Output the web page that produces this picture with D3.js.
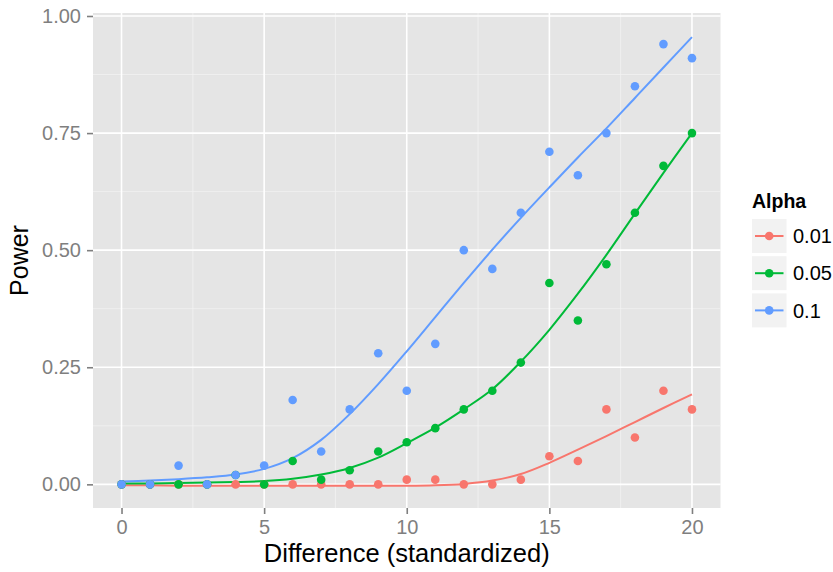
<!DOCTYPE html>
<html>
<head>
<meta charset="utf-8">
<script src="https://cdn.jsdelivr.net/npm/d3@7"></script>
<style>
  body { margin: 0; background: #fff; }
  text { font-family: "Liberation Sans", Arial, Helvetica, sans-serif; }
</style>
</head>
<body>
<div id="chart"></div>
<script>
'use strict';

// difference (standardized) values
var diffs = [0, 1, 2, 3, 4, 5, 6, 7, 8, 9, 10, 11, 12, 13, 14, 15, 16, 17, 18, 19, 20];

// observed power per alpha
var power001 = [0, 0, 0, 0, 0, 0, 0, 0, 0, 0, 0.01, 0.01, 0, 0, 0.01, 0.06, 0.05, 0.16, 0.10, 0.20, 0.16];
var power005 = [0, 0, 0, 0, 0.02, 0, 0.05, 0.01, 0.03, 0.07, 0.09, 0.12, 0.16, 0.20, 0.26, 0.43, 0.35, 0.47, 0.58, 0.68, 0.75];
var power010 = [0, 0, 0.04, 0, 0.02, 0.04, 0.18, 0.07, 0.16, 0.28, 0.20, 0.30, 0.50, 0.46, 0.58, 0.71, 0.66, 0.75, 0.85, 0.94, 0.91];

// smoothed fit
var fit001 = [-0.002, -0.002, -0.003, -0.003, -0.003, -0.003, -0.003, -0.003, -0.003, -0.003, -0.003, -0.002, 0.001, 0.008, 0.022, 0.046, 0.074, 0.103, 0.133, 0.163, 0.192];
var fit005 = [0.002, 0.002, 0.003, 0.004, 0.005, 0.007, 0.012, 0.021, 0.035, 0.057, 0.088, 0.121, 0.160, 0.203, 0.262, 0.330, 0.407, 0.490, 0.578, 0.665, 0.750];
var fit010 = [0.006, 0.008, 0.011, 0.015, 0.021, 0.033, 0.056, 0.095, 0.150, 0.214, 0.284, 0.357, 0.430, 0.501, 0.569, 0.634, 0.698, 0.760, 0.825, 0.890, 0.955];

var alphaLabels = ["0.01", "0.05", "0.1"];
var alphaColors = ["#F8766D", "#00BA38", "#619CFF"];
var xTicks = [0, 5, 10, 15, 20];
var yTicks = [0, 0.25, 0.5, 0.75, 1];

var series = [
  { label: alphaLabels[0], color: alphaColors[0], pts: power001, fit: fit001 },
  { label: alphaLabels[1], color: alphaColors[1], pts: power005, fit: fit005 },
  { label: alphaLabels[2], color: alphaColors[2], pts: power010, fit: fit010 }
];

var svgWidth = 833, svgHeight = 572;
var panel = { left: 93, right: 720.5, top: 13, bottom: 508 };

var svg = d3.select("#chart")
  .append("svg")
  .attr("width", svgWidth)
  .attr("height", svgHeight);

var x = d3.scaleLinear()
  .domain([-1, 21])
  .range([panel.left, panel.right]);

var y = d3.scaleLinear()
  .domain([-0.0505, 1.0064])
  .range([panel.bottom, panel.top]);

// panel background
svg.append("rect")
  .attr("x", panel.left)
  .attr("y", panel.top)
  .attr("width", panel.right - panel.left)
  .attr("height", panel.bottom - panel.top)
  .style("fill", "#e5e5e5");

// minor grid
var grid = svg.append("g");
grid.selectAll(".xminor")
  .data([2.5, 7.5, 12.5, 17.5])
  .enter().append("line")
  .attr("x1", d => x(d)).attr("x2", d => x(d))
  .attr("y1", panel.top).attr("y2", panel.bottom)
  .attr("stroke", "#f2f2f2").attr("stroke-width", 0.8);
grid.selectAll(".yminor")
  .data([0.125, 0.375, 0.625, 0.875])
  .enter().append("line")
  .attr("y1", d => y(d)).attr("y2", d => y(d))
  .attr("x1", panel.left).attr("x2", panel.right)
  .attr("stroke", "#f2f2f2").attr("stroke-width", 0.8);

// major grid
grid.selectAll(".xmajor")
  .data(xTicks)
  .enter().append("line")
  .attr("x1", d => x(d)).attr("x2", d => x(d))
  .attr("y1", panel.top).attr("y2", panel.bottom)
  .attr("stroke", "#fff").attr("stroke-width", 1.6);
grid.selectAll(".ymajor")
  .data(yTicks)
  .enter().append("line")
  .attr("y1", d => y(d)).attr("y2", d => y(d))
  .attr("x1", panel.left).attr("x2", panel.right)
  .attr("stroke", "#fff").attr("stroke-width", 1.6);

// axes
var xAxisG = svg.append("g")
  .attr("transform", "translate(0," + panel.bottom + ")")
  .call(d3.axisBottom(x).tickValues(xTicks).tickSize(6).tickPadding(6).tickFormat(d3.format("d")));

var yAxisG = svg.append("g")
  .attr("transform", "translate(" + panel.left + ",0)")
  .call(d3.axisLeft(y).tickValues(yTicks).tickSize(6).tickPadding(6).tickFormat(d3.format(".2f")));

[xAxisG, yAxisG].forEach(function(g) {
  g.select(".domain").remove();
  g.selectAll(".tick line").attr("stroke", "#7f7f7f").attr("stroke-width", 1.6);
  g.selectAll(".tick text")
    .attr("fill", "#7f7f7f")
    .style("font-size", "20px")
    .style("font-family", "'Liberation Sans', Arial, sans-serif");
});

// axis titles
svg.append("text")
  .attr("x", (panel.left + panel.right) / 2)
  .attr("y", 562)
  .attr("text-anchor", "middle")
  .style("font-size", "25.5px")
  .text("Difference (standardized)");

svg.append("text")
  .attr("transform", "rotate(-90)")
  .attr("x", -(panel.top + panel.bottom) / 2)
  .attr("y", 28)
  .attr("text-anchor", "middle")
  .style("font-size", "25px")
  .text("Power");

// fitted lines
var line = d3.line()
  .x((d, i) => x(diffs[i]))
  .y(d => y(d))
  .curve(d3.curveCatmullRom);

var plot = svg.append("g");
series.forEach(function(s) {
  plot.append("path")
    .datum(s.fit)
    .attr("fill", "none")
    .attr("stroke", s.color)
    .attr("stroke-width", 2)
    .attr("d", line);
});

// points
series.forEach(function(s) {
  plot.selectAll(null)
    .data(s.pts)
    .enter().append("circle")
    .attr("cx", (d, i) => x(diffs[i]))
    .attr("cy", d => y(d))
    .attr("r", 4.3)
    .attr("fill", s.color);
});

// legend
var legend = svg.append("g").attr("transform", "translate(752,0)");
legend.append("text")
  .attr("x", 0)
  .attr("y", 208)
  .style("font-size", "19.5px")
  .style("font-weight", "bold")
  .text("Alpha");

var keys = legend.selectAll(".key")
  .data(series)
  .enter().append("g")
  .attr("transform", (d, i) => "translate(0," + (219 + i * 37.2) + ")");
keys.append("rect")
  .attr("width", 34.5).attr("height", 34)
  .attr("fill", "#f2f2f2");
keys.append("line")
  .attr("x1", 3).attr("x2", 31.5)
  .attr("y1", 17).attr("y2", 17)
  .attr("stroke", d => d.color).attr("stroke-width", 2);
keys.append("circle")
  .attr("cx", 17.2).attr("cy", 17).attr("r", 4.3)
  .attr("fill", d => d.color);
keys.append("text")
  .attr("x", 41)
  .attr("y", 17)
  .attr("dy", "0.36em")
  .style("font-size", "20px")
  .text(d => d.label);
</script>
</body>
</html>
